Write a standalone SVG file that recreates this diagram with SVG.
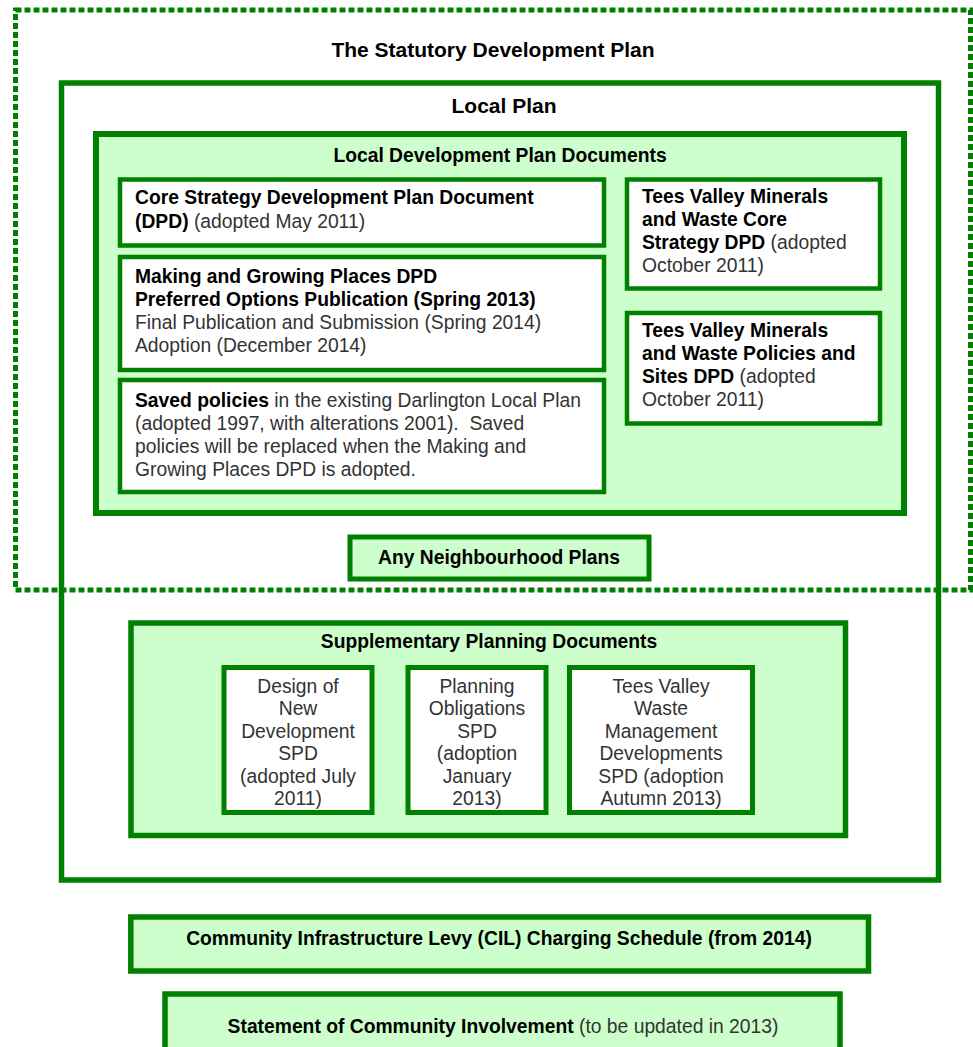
<svg xmlns="http://www.w3.org/2000/svg" width="973" height="1047" viewBox="0 0 973 1047">
<style>
.bx{stroke:#008000;stroke-width:5}
.wf{fill:#ffffff}
.gf{fill:#ccffcc}
text{font-family:"Liberation Sans",Arial,sans-serif;font-size:19.3px;fill:#333333}
.b{font-weight:bold;fill:#000000}
.c{text-anchor:middle}
.h{font-size:21px}
</style>
<rect x="0" y="0" width="973" height="1047" fill="#ffffff"/>
<g id="local-plan">
<rect x="61.5" y="83" width="877" height="797" fill="none" class="bx" stroke-width="5.5" style="stroke-width:5.5"/>
<text x="504" y="113" class="b c h">Local Plan</text>
</g>
<g id="statutory-development-plan">
<rect x="15.5" y="10" width="955" height="580" fill="none" stroke="#008000" stroke-width="5" stroke-dasharray="6 3"/>
<text x="493" y="57" class="b c h">The Statutory Development Plan</text>
</g>
<g id="ldp-documents">
<rect x="96" y="134" width="808" height="379" class="bx gf" style="stroke-width:6"/>
<text x="500" y="162" class="b c">Local Development Plan Documents</text>
</g>
<g id="core-strategy">
<rect x="120" y="179.5" width="484" height="66" class="bx wf" style="stroke-width:4.5"/>
<text x="135" y="204"><tspan class="b">Core Strategy Development Plan Document</tspan></text>
<text x="135" y="227.5"><tspan class="b">(DPD)</tspan> (adopted May 2011)</text>
</g>
<g id="making-growing">
<rect x="120" y="257" width="484" height="113" class="bx wf" style="stroke-width:4.5"/>
<text x="135" y="283" class="b">Making and Growing Places DPD</text>
<text x="135" y="306" class="b">Preferred Options Publication (Spring 2013)</text>
<text x="135" y="329">Final Publication and Submission (Spring 2014)</text>
<text x="135" y="352">Adoption (December 2014)</text>
</g>
<g id="saved-policies">
<rect x="120" y="380" width="484" height="112" class="bx wf" style="stroke-width:4.5"/>
<text x="135" y="407"><tspan class="b">Saved policies</tspan> in the existing Darlington Local Plan</text>
<text x="135" y="430">(adopted 1997, with alterations 2001). &#160;Saved</text>
<text x="135" y="453">policies will be replaced when the Making and</text>
<text x="135" y="476">Growing Places DPD is adopted.</text>
</g>
<g id="tees-core-strategy">
<rect x="627" y="179.5" width="253" height="109" class="bx wf" style="stroke-width:4.5"/>
<text x="642" y="203" class="b">Tees Valley Minerals</text>
<text x="642" y="226" class="b">and Waste Core</text>
<text x="642" y="249"><tspan class="b">Strategy DPD</tspan> (adopted</text>
<text x="642" y="272">October 2011)</text>
</g>
<g id="tees-policies-sites">
<rect x="627" y="313" width="253" height="110.5" class="bx wf" style="stroke-width:4.5"/>
<text x="642" y="337" class="b">Tees Valley Minerals</text>
<text x="642" y="360" class="b">and Waste Policies and</text>
<text x="642" y="383"><tspan class="b">Sites DPD</tspan> (adopted</text>
<text x="642" y="406">October 2011)</text>
</g>
<g id="neighbourhood-plans">
<rect x="350" y="537" width="299" height="42" class="bx gf"/>
<text x="499" y="563.5" class="b c">Any Neighbourhood Plans</text>
</g>
<g id="spd">
<rect x="131" y="623" width="714.5" height="212.5" class="bx gf" style="stroke-width:5.5"/>
<text x="489" y="647.5" class="b c">Supplementary Planning Documents</text>
</g>
<g id="spd-design">
<rect x="224" y="667.5" width="148" height="145" class="bx wf"/>
<text x="298" y="693" class="c">Design of</text>
<text x="298" y="715.4" class="c">New</text>
<text x="298" y="737.8" class="c">Development</text>
<text x="298" y="760.2" class="c">SPD</text>
<text x="298" y="782.6" class="c">(adopted July</text>
<text x="298" y="805" class="c">2011)</text>
</g>
<g id="spd-planning-obligations">
<rect x="408" y="667.5" width="138" height="145" class="bx wf"/>
<text x="477" y="693" class="c">Planning</text>
<text x="477" y="715.4" class="c">Obligations</text>
<text x="477" y="737.8" class="c">SPD</text>
<text x="477" y="760.2" class="c">(adoption</text>
<text x="477" y="782.6" class="c">January</text>
<text x="477" y="805" class="c">2013)</text>
</g>
<g id="spd-tees-waste">
<rect x="569.5" y="667.5" width="183" height="145" class="bx wf"/>
<text x="661" y="693" class="c">Tees Valley</text>
<text x="661" y="715.4" class="c">Waste</text>
<text x="661" y="737.8" class="c">Management</text>
<text x="661" y="760.2" class="c">Developments</text>
<text x="661" y="782.6" class="c">SPD (adoption</text>
<text x="661" y="805" class="c">Autumn 2013)</text>
</g>
<g id="cil">
<rect x="130.8" y="917" width="737.7" height="54" class="bx gf" style="stroke-width:5.5"/>
<text x="499" y="945" class="b c">Community Infrastructure Levy (CIL) Charging Schedule (from 2014)</text>
</g>
<g id="sci">
<rect x="165" y="994" width="675" height="62" class="bx gf" style="stroke-width:5.5"/>
<text x="503" y="1033" class="c"><tspan class="b">Statement of Community Involvement</tspan> (to be updated in 2013)</text>
</g>
</svg>
